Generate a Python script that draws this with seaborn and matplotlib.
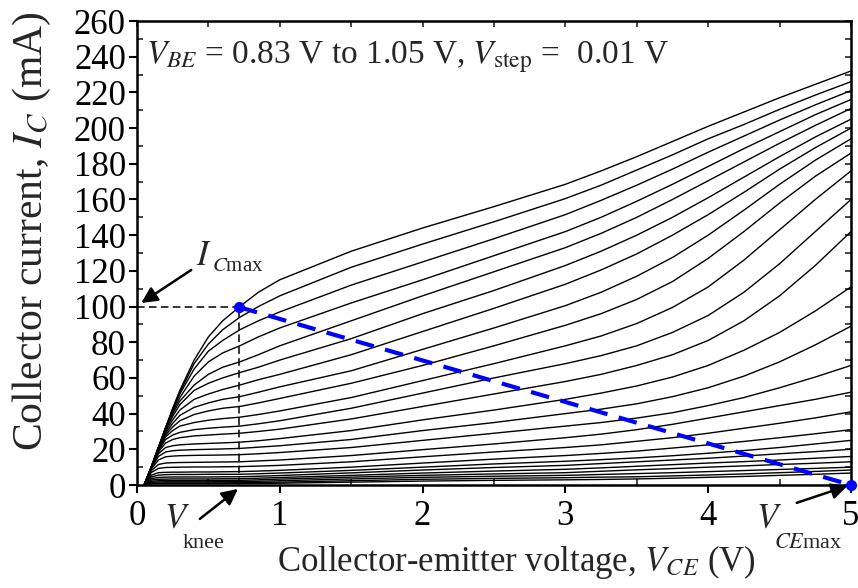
import matplotlib
matplotlib.use("Agg")
import matplotlib.pyplot as plt
import seaborn as sns
import pandas as pd
from matplotlib.ticker import MultipleLocator

# ---------------- data ----------------
vce = [0.05, 0.1, 0.15, 0.2, 0.25, 0.3, 0.4, 0.5, 0.6, 0.72, 0.85, 1.0, 1.5, 2.0, 2.5,
       3.0, 3.25, 3.5, 3.75, 4.0, 4.25, 4.5, 4.75, 5.0]

ic_c01 = [0, 10, 21, 32, 43, 53, 70, 83, 92, 100, 108, 115, 131, 144, 156, 168.5, 176, 184, 192.5, 201, 209, 217, 224.5, 232]
ic_c02 = [0, 10, 21, 32, 42.5, 52, 68, 79, 87, 94, 100, 106, 122, 135, 147.5, 160.5, 168, 176.5, 185, 194, 202, 210.5, 218.5, 226]
ic_c03 = [0, 10, 21, 32, 42, 51, 65, 75, 81, 87, 92, 97, 112, 125, 138, 151.5, 159.5, 168, 177, 186.5, 195.5, 204.5, 213, 221]
ic_c04 = [0, 10, 21, 32, 41, 49, 61, 69, 74, 78, 83, 88, 102, 115, 128.5, 142, 150, 159, 168.5, 178.5, 188.5, 198, 207.5, 216]
ic_c05 = [0, 10, 21, 31, 40, 47, 56, 62, 66, 69, 73, 78, 92, 106, 119.5, 133, 141, 150, 160, 170.5, 181, 191.5, 201.5, 211]
ic_c06 = [0, 10, 21, 31, 38.5, 45, 53, 57, 60, 63, 66, 70, 82, 96, 109, 123, 131, 140, 150, 161, 172.5, 184, 195, 205]
ic_c07 = [0, 10, 21, 30, 36.5, 42, 48, 51, 53.5, 56, 59, 62, 73, 86, 99, 112.5, 120.5, 129.5, 140, 151.5, 164, 177, 189, 200]
ic_c08 = [0, 10, 20, 29, 34.5, 39, 43.5, 46, 48, 49.5, 52, 55, 64, 76, 88, 100.5, 108, 117, 127.5, 140, 154, 168.5, 182, 194]
ic_c09 = [0, 10, 20, 28, 32.5, 36, 39.5, 41.5, 43, 44, 46, 48.5, 57, 67, 78, 89.5, 96, 104, 114, 127, 142, 158, 173, 186]
ic_c10 = [0, 10, 19.5, 27, 30.5, 33, 35, 36.3, 37.2, 38, 39.5, 41.5, 49, 58.5, 68, 78, 83.5, 90.5, 99.5, 111, 126, 143, 160, 176]
ic_c11 = [0, 10, 19, 25.5, 28, 29.5, 31, 31.8, 32.4, 33, 34.3, 36, 43, 51.5, 60, 68, 72.5, 78, 85.5, 95, 108, 124, 142, 160]
ic_c12 = [0, 10, 18.5, 23.5, 25.5, 26.5, 27.5, 28, 28.5, 29, 30, 31.3, 37, 44, 51, 58, 62, 67, 73, 81, 92, 106, 123, 142]
ic_c13 = [0, 10, 17.5, 21, 22, 22.5, 23, 23.3, 23.6, 24, 24.8, 26, 30.5, 36.5, 42, 48, 51.5, 55.5, 60.5, 67, 75.5, 85.5, 97.5, 111]
ic_c14 = [0, 9.5, 16, 18.5, 19.2, 19.5, 19.8, 20, 20.2, 20.5, 21.2, 22, 25.5, 30.5, 35, 40, 42.5, 45.5, 49.5, 54.5, 61, 69, 78.5, 89]
ic_c15 = [0, 9, 14, 15.8, 16.2, 16.4, 16.6, 16.7, 16.8, 17, 17.5, 18.2, 21, 25, 29, 33, 35, 37.5, 40.5, 44.5, 49, 54.5, 60.5, 67]
ic_c16 = [0, 8, 11.5, 12.3, 12.5, 12.6, 12.7, 12.8, 12.9, 13, 13.5, 14, 16.5, 19.8, 23, 26.5, 28.5, 31, 34, 37.5, 41, 44.5, 48, 52]
ic_c17 = [0, 7, 9.3, 9.8, 9.9, 10, 10.1, 10.1, 10.2, 10.3, 10.6, 11, 13, 15.8, 18.5, 21, 22.5, 24.5, 26.5, 29, 31.8, 34.6, 37.6, 41]
ic_c18 = [0, 5.5, 6.9, 7.1, 7.2, 7.2, 7.3, 7.3, 7.4, 7.5, 7.8, 8.2, 10, 12.3, 14.5, 16.5, 17.7, 19, 20.7, 22.5, 24.4, 26.5, 28.7, 31]
ic_c19 = [0, 4.5, 5.5, 5.8, 5.9, 5.9, 5.9, 6, 6, 6, 6.3, 6.7, 8.2, 10, 11.8, 13.3, 14.2, 15.2, 16.4, 17.8, 19.3, 21, 23, 25]
ic_c20 = [0, 3.6, 4.2, 4.4, 4.5, 4.5, 4.5, 4.5, 4.6, 4.6, 4.9, 5.3, 6.8, 8.4, 9.8, 11, 12, 13, 14, 15, 16.2, 17.5, 18.7, 20]
ic_c21 = [0, 2.8, 3.2, 3.3, 3.4, 3.4, 3.4, 3.4, 3.5, 3.5, 3.8, 4.2, 5.4, 6.7, 7.8, 8.8, 9.6, 10.5, 11.4, 12.3, 13.1, 14, 15, 16]
ic_c22 = [0, 2.1, 2.4, 2.5, 2.5, 2.5, 2.5, 2.6, 2.6, 2.6, 2.9, 3.3, 4.4, 5.4, 6.2, 6.9, 7.7, 8.5, 9.2, 10, 10.7, 11.5, 12.2, 13]
ic_c23 = [0, 1.5, 1.7, 1.8, 1.8, 1.8, 1.8, 1.8, 1.9, 1.9, 2.1, 2.4, 3.4, 4.3, 4.9, 5.4, 5.9, 6.4, 6.9, 7.5, 8.1, 8.7, 9.3, 10]
ic_c24 = [0, 1, 1.1, 1.2, 1.2, 1.2, 1.2, 1.2, 1.2, 1.3, 1.4, 1.6, 2.4, 3.2, 3.7, 4.1, 4.4, 4.6, 5.1, 5.6, 6.2, 6.9, 7.6, 8.4]
ic_c25 = [0, 0.6, 0.7, 0.7, 0.7, 0.7, 0.7, 0.7, 0.7, 0.8, 0.9, 1.0, 1.6, 2.2, 2.6, 2.9, 3.1, 3.4, 3.8, 4.3, 4.8, 5.4, 6, 6.7]

curves = [ic_c01, ic_c02, ic_c03, ic_c04, ic_c05, ic_c06, ic_c07, ic_c08, ic_c09, ic_c10,
          ic_c11, ic_c12, ic_c13, ic_c14, ic_c15, ic_c16, ic_c17, ic_c18, ic_c19, ic_c20,
          ic_c21, ic_c22, ic_c23, ic_c24, ic_c25]

v_knee = 0.714
ic_max = 99.7
vce_max = 5.0

x_ticks = [0, 1, 2, 3, 4, 5]
y_ticks = list(range(0, 261, 20))

# ---------------- style ----------------
sns.set_style("ticks")
plt.rcParams["font.family"] = ["Liberation Serif", "DejaVu Serif"]
plt.rcParams["mathtext.fontset"] = "stix"

rows = []
for k, c in enumerate(curves):
    for v, i in zip(vce, c):
        rows.append({"curve": k, "vce": v, "ic": i})
df = pd.DataFrame(rows)

fig = plt.figure(figsize=(8.58, 5.88), dpi=100)
ax = fig.add_axes([137 / 858, 1 - 485 / 588, (851 - 137) / 858, (485 - 21) / 588])

sns.lineplot(data=df, x="vce", y="ic", hue="curve", units="curve", estimator=None,
             palette=["black"] * len(curves), legend=False, sort=False, lw=1.0, ax=ax)

# load line and guide lines
sns.lineplot(x=[v_knee, vce_max], y=[ic_max, 0], color="#0000ff", lw=3.0,
             ax=ax, zorder=5)
ax.lines[-1].set_dashes([4.5, 2.8])
ax.plot([0, v_knee], [ic_max, ic_max], color="black", lw=1.1, ls=(0, (5, 2.8)), zorder=4)
ax.plot([v_knee, v_knee], [0, ic_max], color="black", lw=1.1, ls=(0, (5, 2.8)), zorder=4)
ax.plot([v_knee, vce_max], [ic_max, 0], "o", color="#0000ff", ms=7, clip_on=False, zorder=6)

ax.set_xlim(0, 5)
ax.set_ylim(0, 260)
ax.set_xticks(x_ticks)
ax.set_yticks(y_ticks)
ax.xaxis.set_minor_locator(MultipleLocator(0.5))
ax.yaxis.set_minor_locator(MultipleLocator(10))
ax.tick_params(which="major", direction="out", length=6, width=1.5, labelsize=25, colors="black")
ax.tick_params(axis="x", which="major", pad=5)
ax.tick_params(axis="y", which="major", pad=2)
ax.tick_params(which="minor", direction="in", length=4, width=1.2)
for s in ax.spines.values():
    s.set_linewidth(1.8)
    s.set_color("black")

secx = ax.secondary_xaxis("top")
secx.set_xticks([0, 0.5, 1, 1.5, 2, 2.5, 3, 3.5, 4, 4.5, 5])
secx.tick_params(direction="in", length=4, width=1.2, labeltop=False)
secy = ax.secondary_yaxis("right")
secy.set_yticks(list(range(0, 261, 10)))
secy.tick_params(direction="in", length=4, width=1.2, labelright=False)

ax.set_xlabel("Collector-emitter voltage, $V_{CE}$ (V)", fontsize=25)
ax.xaxis.set_label_coords(0.531, -0.125)
ax.set_ylabel("Collector current, $I_C$ (mA)", fontsize=30)
ax.yaxis.set_label_coords(-0.117, 0.547)

ax.text(0.06, 236, "$V_{BE}$ = 0.83 V to 1.05 V, $V_{\\mathrm{step}}$ =  0.01 V",
        fontsize=24, ha="left", va="baseline")


def sub_label(x, y, main, sub, dx, dy, main_size=25, sub_size=16):
    t = ax.text(x, y, main, fontsize=main_size, ha="left", va="baseline")
    ax.annotate(sub, xy=(1, 0), xycoords=t, xytext=(dx, dy), textcoords="offset points",
                fontsize=sub_size, ha="left", va="bottom", annotation_clip=False)


arrow_kw = dict(arrowstyle="-|>", color="black", lw=1.8, mutation_scale=24, shrinkA=0, shrinkB=0)
ax.annotate("", xy=(0.03, 102), xytext=(0.38, 120.5), annotation_clip=False, arrowprops=arrow_kw)
sub_label(0.415, 123.2, "$I$", "$C$max", 0, -1.8, sub_size=15)
ax.annotate("", xy=(0.707, -2.2), xytext=(0.44, -19), annotation_clip=False, arrowprops=arrow_kw)
sub_label(0.189, -24.1, "$V$", "knee", -5.5, -12.5)
ax.annotate("", xy=(4.975, -0.5), xytext=(4.62, -10), annotation_clip=False, arrowprops=arrow_kw)
sub_label(4.335, -24.1, "$V$", "$CE$max", -5.5, -12.5)

fig.savefig("out.png", dpi=100)
